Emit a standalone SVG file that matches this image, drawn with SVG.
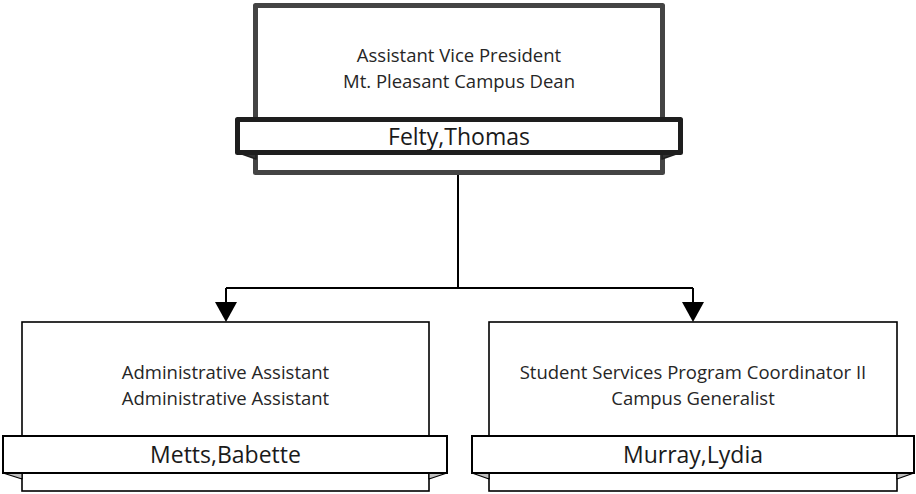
<svg xmlns="http://www.w3.org/2000/svg" width="916" height="494" viewBox="0 0 916 494">
<style>
  .title { font-family: "Open Sans", "Liberation Sans", sans-serif; font-size: 18.5px; fill: #262626; text-anchor: middle; }
  .name { font-family: "Open Sans", "Liberation Sans", sans-serif; font-size: 23px; fill: #1a1a1a; text-anchor: middle; }
  .box { fill: #ffffff; stroke: #000000; stroke-width: 1.6; }
  .banner { fill: #ffffff; stroke: #000000; stroke-width: 2; }
  .fold { fill: #c0c0c0; stroke: #000000; stroke-width: 1.2; stroke-linejoin: round; }
  .topbox { fill: #ffffff; stroke: #444444; stroke-width: 5; stroke-linejoin: round; }
  .topbanner { fill: #ffffff; stroke: #1e1e1e; stroke-width: 5; stroke-linejoin: round; }
  .topfold { fill: #333333; stroke: #1e1e1e; stroke-width: 1.5; stroke-linejoin: round; }
  .conn { fill: none; stroke: #000000; stroke-width: 2; }
  .arrow { fill: #000000; }
</style>
<g id="connectors">
  <path class="conn" d="M458,175 V288" stroke-width="3"/>
  <path class="conn" d="M226,288 H693"/>
  <path class="conn" d="M226,288 V306"/>
  <path class="conn" d="M693,288 V306"/>
  <polygon class="arrow" points="215,302 237,302 226,322"/>
  <polygon class="arrow" points="682,302 704,302 693,322"/>
</g>
<g id="node-felty">
  <rect class="topbox" x="255.5" y="5.5" width="407" height="167"/>
  <polygon class="topfold" points="237.5,152.5 256,159 256,152.5"/>
  <polygon class="topfold" points="680.5,152.5 662,159 662,152.5"/>
  <rect class="topbanner" x="237.5" y="119.5" width="443" height="33"/>
  <text class="title" x="459" y="62">Assistant Vice President</text>
  <text class="title" x="459" y="88">Mt. Pleasant Campus Dean</text>
  <text class="name" x="459" y="145">Felty,Thomas</text>
</g>
<g id="node-metts">
  <rect class="box" x="22" y="322" width="407" height="169"/>
  <polygon class="fold" points="3,473 22,479 22,473"/>
  <polygon class="fold" points="447,473 429,479 429,473"/>
  <rect class="banner" x="3" y="436" width="444" height="37"/>
  <text class="title" x="225.5" y="379">Administrative Assistant</text>
  <text class="title" x="225.5" y="405">Administrative Assistant</text>
  <text class="name" x="225.5" y="463">Metts,Babette</text>
</g>
<g id="node-murray">
  <rect class="box" x="489" y="322" width="408" height="169"/>
  <polygon class="fold" points="472,473 489,479 489,473"/>
  <polygon class="fold" points="914,473 897,479 897,473"/>
  <rect class="banner" x="472" y="436" width="442" height="37"/>
  <text class="title" x="693" y="379">Student Services Program Coordinator II</text>
  <text class="title" x="693" y="405">Campus Generalist</text>
  <text class="name" x="693" y="463">Murray,Lydia</text>
</g>
</svg>
